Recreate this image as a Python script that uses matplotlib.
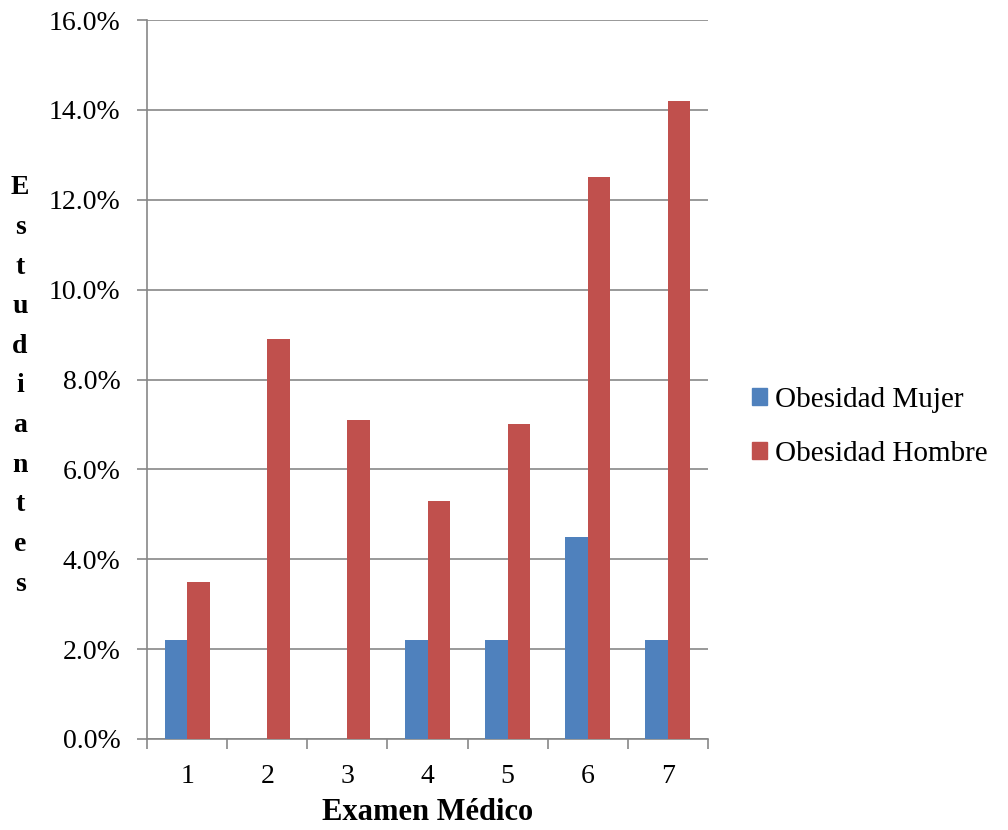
import matplotlib
matplotlib.use("Agg")
import matplotlib.pyplot as plt
import numpy as np
from matplotlib.ticker import FuncFormatter, MultipleLocator
from matplotlib.patches import Patch

categories = ["1", "2", "3", "4", "5", "6", "7"]
obesidad_mujer = [2.2, 0.0, 0.0, 2.2, 2.2, 4.5, 2.2]
obesidad_hombre = [3.5, 8.9, 7.1, 5.3, 7.0, 12.5, 14.2]
series_labels = ["Obesidad Mujer", "Obesidad Hombre"]

BLUE = "#4F81BD"
RED = "#C0504D"
GRID = "#878787"

plt.rcParams["font.family"] = ["Liberation Serif", "DejaVu Serif"]

fig = plt.figure(figsize=(10.08, 8.30), dpi=100)
ax = fig.add_axes([147 / 1008, 1 - 739 / 830, 561 / 1008, 719 / 830])

x = np.arange(len(categories))
w = 0.28
ax.bar(x - w / 2, obesidad_mujer, width=w, color=BLUE, zorder=3)
ax.bar(x + w / 2, obesidad_hombre, width=w, color=RED, zorder=3)

ax.set_xlim(-0.5, len(categories) - 0.5)
ax.set_ylim(0, 16)
ax.yaxis.set_major_locator(MultipleLocator(2))
ax.yaxis.set_major_formatter(FuncFormatter(lambda v, p: f"{v:.1f}%"))
ax.grid(axis="y", color=GRID, linewidth=1.2, zorder=0)

ax.set_xticks(x)
ax.set_xticklabels(categories)
ax.set_xticks(np.arange(-0.5, len(categories)), minor=True)
ax.tick_params(axis="x", which="major", length=0, pad=18, labelsize=20)
ax.tick_params(axis="x", which="minor", length=7, width=1.2, color=GRID, direction="out")
ax.tick_params(axis="y", length=7, width=1.2, color=GRID, direction="out", labelsize=20, pad=12)

for side in ["top", "right"]:
    ax.spines[side].set_visible(False)
for side in ["left", "bottom"]:
    ax.spines[side].set_color(GRID)
    ax.spines[side].set_linewidth(1.2)

fig.text(428 / 1008, 1 - 812 / 830, "Examen Médico", ha="center", va="center",
         fontsize=22, fontweight="bold")
fig.text(20 / 1008, 1 - 386 / 830, "\n".join("Estudiantes"), ha="center", va="center",
         fontsize=20, fontweight="bold", linespacing=1.77)

handles = [Patch(color=BLUE), Patch(color=RED)]
fig.legend(handles, series_labels, loc="center left",
           bbox_to_anchor=(752 / 1008, 1 - 427 / 830), frameon=False,
           borderpad=0, borderaxespad=0,
           fontsize=21, handlelength=0.5, handleheight=0.5, handletextpad=0.3,
           labelspacing=0.95)

fig.savefig("out.png", dpi=100)
